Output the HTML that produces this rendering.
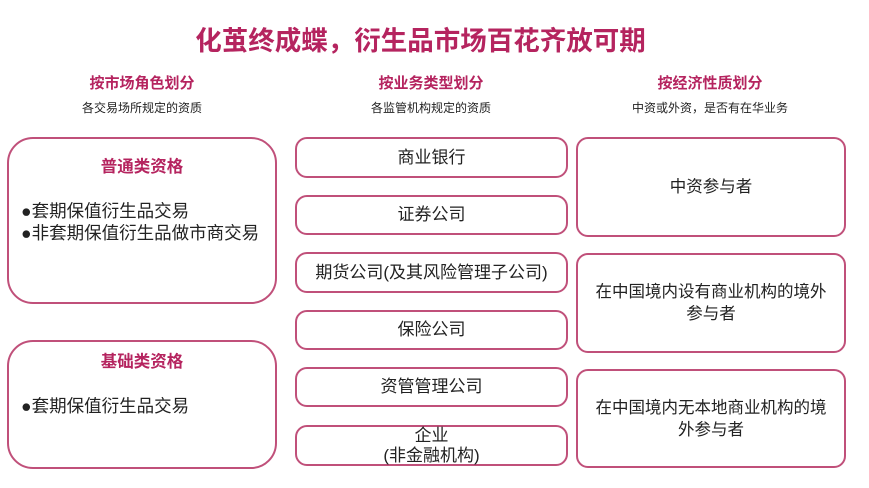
<!DOCTYPE html>
<html><head><meta charset="utf-8"><style>
body{margin:0;width:869px;height:488px;background:#fff;position:relative;overflow:hidden;font-family:"Liberation Sans","Noto Sans CJK SC",sans-serif;color:#222}
div{position:absolute;box-sizing:border-box}
.t{left:-14px;width:869px;top:19px;text-align:center;font-size:26.5px;font-weight:bold;color:#b5245f}
.h{font-size:15px;font-weight:bold;color:#b5245f;text-align:center;width:280px}
.s{font-size:12px;text-align:center;width:280px;color:#222}
.b{border:2px solid #c0507a;border-radius:12px;display:flex;align-items:center;justify-content:center;text-align:center;font-size:16.5px;line-height:22px}
.L{border-radius:26px}
</style></head><body>
<div class="t">化茧终成蝶，衍生品市场百花齐放可期</div>
<div class="h" style="left:2px;top:72px">按市场角色划分</div>
<div class="s" style="left:2px;top:99px">各交易场所规定的资质</div>
<div class="h" style="left:291px;top:72px">按业务类型划分</div>
<div class="s" style="left:291px;top:99px">各监管机构规定的资质</div>
<div class="h" style="left:570px;top:72px">按经济性质划分</div>
<div class="s" style="left:570px;top:99px">中资或外资，是否有在华业务</div>

<div class="b L" style="left:7px;top:137px;width:270px;height:167px;display:block;text-align:left;font-size:17.5px">
<div style="left:0;width:266px;top:17px;text-align:center;font-weight:bold;color:#b5245f;font-size:16.5px">普通类资格</div>
<div style="left:12px;top:61px">●套期保值衍生品交易<br>●非套期保值衍生品做市商交易</div></div>
<div class="b L" style="left:7px;top:340px;width:270px;height:129px;display:block;text-align:left;font-size:17.5px">
<div style="left:0;width:266px;top:9px;text-align:center;font-weight:bold;color:#b5245f;font-size:16.5px">基础类资格</div>
<div style="left:12px;top:53px">●套期保值衍生品交易</div></div>

<div class="b" style="left:295px;top:137px;width:273px;height:41px;font-size:17px">商业银行</div>
<div class="b" style="left:295px;top:195px;width:273px;height:40px;font-size:17px">证券公司</div>
<div class="b" style="left:295px;top:252px;width:273px;height:41px;font-size:17px">期货公司(及其风险管理子公司)</div>
<div class="b" style="left:295px;top:310px;width:273px;height:40px;font-size:17px">保险公司</div>
<div class="b" style="left:295px;top:367px;width:273px;height:40px;font-size:17px">资管管理公司</div>
<div class="b" style="left:295px;top:425px;width:273px;height:41px;line-height:20px;font-size:17px">企业<br>(非金融机构)</div>

<div class="b" style="left:576px;top:137px;width:270px;height:100px">中资参与者</div>
<div class="b" style="left:576px;top:253px;width:270px;height:100px">在中国境内设有商业机构的境外<br>参与者</div>
<div class="b" style="left:576px;top:369px;width:270px;height:99px">在中国境内无本地商业机构的境<br>外参与者</div>
</body></html>
